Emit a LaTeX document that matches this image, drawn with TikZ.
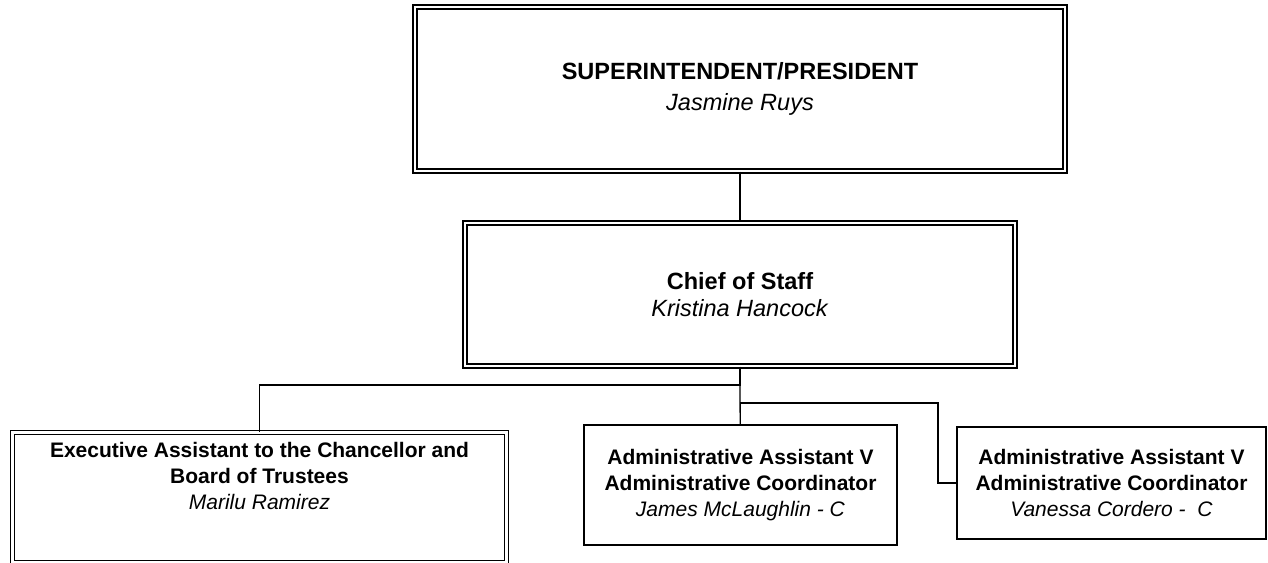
\documentclass[tikz,border=0pt]{standalone}
\usepackage{fontspec}
\setmainfont{Liberation Sans}
\begin{document}
\begin{tikzpicture}[x=1pt, y=-1pt]
        \tikzstyle{dbox}=[draw, double, line width=1.4pt, double distance=2.6pt,
            align=center, inner sep=0pt]
        \tikzstyle{sbox}=[draw, line width=1.8pt, align=center, inner sep=0pt]
        \tikzstyle{toptext}=[font=\fontsize{23.5}{31}\selectfont]
        \tikzstyle{lowtext}=[font=\fontsize{21}{26}\selectfont]

        \useasboundingbox (0, 0) rectangle (1268, 562);

        \node[dbox, toptext, minimum width=650pt, minimum height=164pt] (pres) at (740, 89)
            {\textbf{SUPERINTENDENT/PRESIDENT}\\\textit{Jasmine Ruys}};
        \node[dbox, toptext, minimum width=550pt, minimum height=143pt] (chief) at (740, 294.5)
            {\textbf{Chief of Staff}\\[-4pt]\textit{Kristina Hancock}};

        \node[dbox, lowtext, text depth=44pt, minimum width=494pt, minimum height=130pt] (exec) at (259.5, 497.5)
            {\textbf{Executive Assistant to the Chancellor and}\\\textbf{Board of Trustees}\\\textit{Marilu Ramirez}};
        \node[sbox, lowtext, minimum width=313pt, minimum height=120pt] (aa1) at (740.5, 485)
            {\textbf{Administrative Assistant V}\\\textbf{Administrative Coordinator}\\\textit{James McLaughlin - C}};
        \node[sbox, lowtext, minimum width=309pt, minimum height=112pt] (aa2) at (1111.5, 483)
            {\textbf{Administrative Assistant V}\\\textbf{Administrative Coordinator}\\\textit{Vanessa Cordero -~ C}};

        \coordinate (b1) at (740, 385);
        \coordinate (b2) at (740, 403);
        \coordinate (t2) at (938, 483);

	\draw[line width=1.3pt] (pres) to (chief);
	\draw[line width=1.3pt] (chief) to (b1) -| (exec);
	\draw[line width=1.3pt] (b1) to (aa1);
	\draw[line width=1.3pt] (b2) -| (t2) to (aa2);
    \end{tikzpicture}
\end{document}
